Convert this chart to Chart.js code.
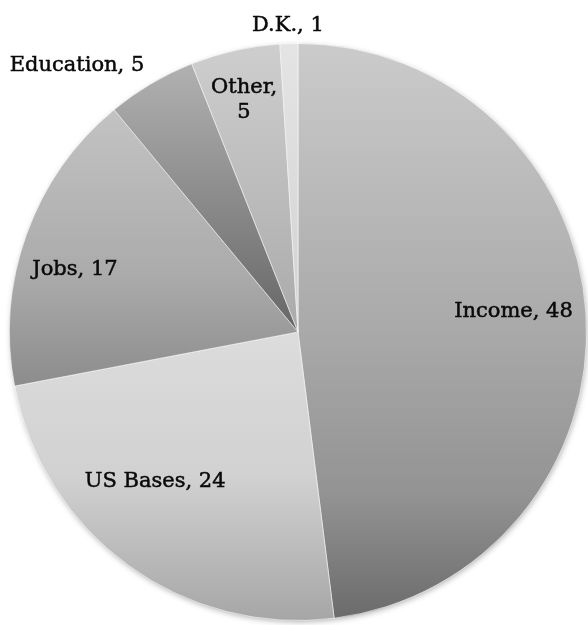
<!DOCTYPE html>
<html>
<head>
<meta charset="utf-8">
<script src="https://cdn.jsdelivr.net/npm/chart.js@4"></script>
<style>
  html, body { margin: 0; padding: 0; background: #ffffff; }
  #c { display: block; }
</style>
</head>
<body>
<canvas id="c" width="588" height="625"></canvas>
<script>
// ---- data ----
const categories = ["Income", "US Bases", "Jobs", "Education", "Other", "D.K."];
const values = [48, 24, 17, 5, 5, 1];
// label text lines (as shown in the chart)
const labelLines = [["Income, 48"], ["US Bases, 24"], ["Jobs, 17"], ["Education, 5"], ["Other,", "5"], ["D.K., 1"]];

// ---- styling (not data) ----
// vertical gradient stops per slice, as fraction of pie height
const sliceStops = [
  [[0, "#cbcbcb"], [0.5, "#a9a9a9"], [0.78, "#939393"], [1, "#6a6a6a"]],
  [[0.5, "#dcdcdc"], [0.75, "#d1d1d1"], [1, "#a6a6a6"]],
  [[0.1, "#c4c4c4"], [0.4, "#ababab"], [0.6, "#8b8b8b"]],
  [[0.03, "#b2b2b2"], [0.5, "#666666"]],
  [[0.0, "#cecece"], [0.5, "#aaaaaa"]],
  [[0.0, "#e4e4e4"], [0.5, "#d2d2d2"]]
];
// label anchor (text centre x, baseline y) relative to pie centre, in units of radius
const labelAnchor = [
  [0.747, -0.052], [-0.495, 0.536], [-0.773, -0.197],
  [-0.766, -0.903], [-0.187, -0.827], [-0.035, -1.045]
];

function sliceColor(context) {
  const chart = context.chart;
  const area = chart.chartArea;
  if (!area) return "#aaaaaa";
  const i = context.dataIndex;
  const g = chart.ctx.createLinearGradient(0, area.top, 0, area.bottom);
  sliceStops[i].forEach(s => g.addColorStop(s[0], s[1]));
  return g;
}

const shadowPlugin = {
  id: "pieShadow",
  beforeDatasetsDraw(chart) {
    const arc = chart.getDatasetMeta(0).data[0];
    if (!arc) return;
    const ctx = chart.ctx;
    ctx.save();
    ctx.shadowColor = "rgba(0,0,0,0.35)";
    ctx.shadowBlur = 6;
    ctx.shadowOffsetX = 1;
    ctx.shadowOffsetY = 2;
    ctx.fillStyle = "#999999";
    ctx.beginPath();
    ctx.arc(arc.x, arc.y, arc.outerRadius - 1, 0, Math.PI * 2);
    ctx.fill();
    ctx.restore();
  }
};

const labelPlugin = {
  id: "sliceLabels",
  afterDatasetsDraw(chart) {
    const meta = chart.getDatasetMeta(0);
    const ctx = chart.ctx;
    ctx.save();
    ctx.font = '21px "DejaVu Serif", serif';
    ctx.fillStyle = "#0a0a0a";
    ctx.strokeStyle = "#0a0a0a";
    ctx.lineWidth = 0.5;
    ctx.textAlign = "center";
    ctx.textBaseline = "alphabetic";
    meta.data.forEach((arc, i) => {
      const r = arc.outerRadius;
      const x = arc.x + labelAnchor[i][0] * r;
      let y = arc.y + labelAnchor[i][1] * r;
      labelLines[i].forEach(line => {
        ctx.fillText(line, x, y);
        ctx.strokeText(line, x, y);
        y += 25;
      });
    });
    ctx.restore();
  }
};

new Chart(document.getElementById("c"), {
  type: "pie",
  data: {
    labels: categories,
    datasets: [{
      data: values,
      backgroundColor: sliceColor,
      borderColor: "rgba(255,255,255,0.55)",
      borderWidth: 1
    }]
  },
  options: {
    responsive: false,
    animation: false,
    layout: { padding: { top: 43, bottom: 4, left: 9, right: 1 } },
    plugins: {
      legend: { display: false },
      tooltip: { enabled: false }
    }
  },
  plugins: [shadowPlugin, labelPlugin]
});
</script>
</body>
</html>
